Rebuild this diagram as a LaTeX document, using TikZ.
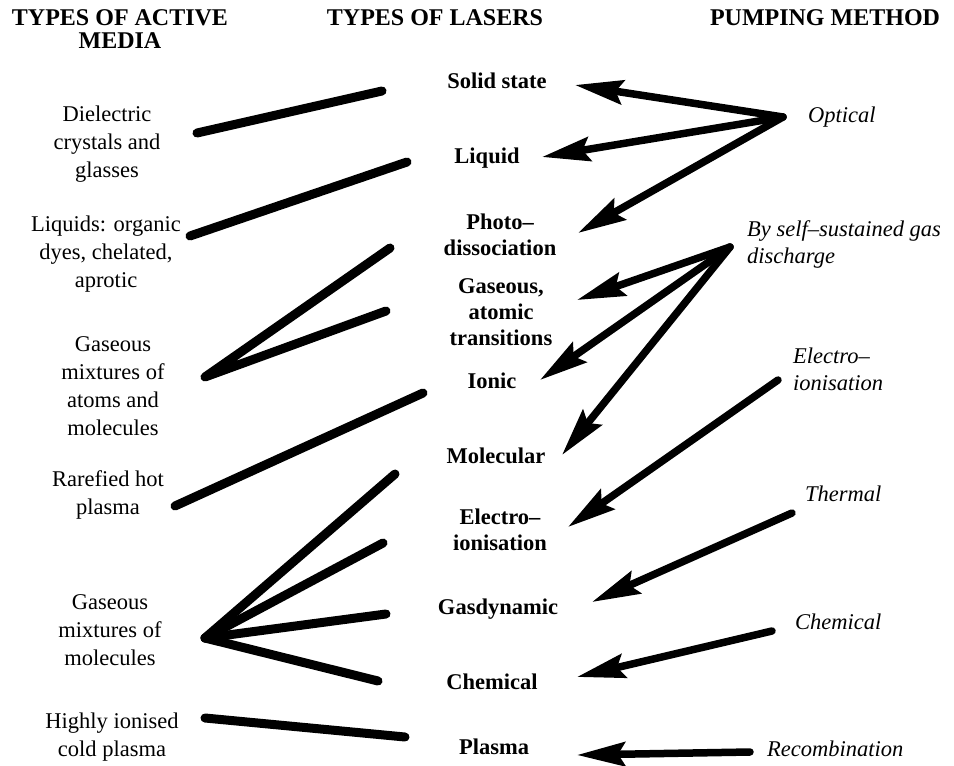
\documentclass[tikz,border=0pt]{standalone}
\usepackage{fontspec}
\setmainfont{Liberation Serif}
\usetikzlibrary{arrows.meta}
\begin{document}
\begin{tikzpicture}[x=1pt,y=-1pt,
  lft/.style={font=\fontsize{22.5}{28}\selectfont, align=center, anchor=north, inner sep=0pt},
  ctr/.style={font=\fontsize{22.5}{26}\selectfont\bfseries, align=center, anchor=north, inner sep=0pt},
  rgt/.style={font=\fontsize{22.5}{27.5}\selectfont\itshape, align=left, anchor=north west, inner sep=0pt},
  hdr/.style={font=\fontsize{24}{23}\selectfont\bfseries, align=center, anchor=north, inner sep=0pt},
  link/.style={line width=9pt, line cap=round, line join=round},
  pump/.style={line width=7.5pt, line cap=round, -{Stealth[length=48pt,width=24pt,inset=7pt]}},
]
\useasboundingbox[fill=white] (0,0) rectangle (954,766);

% headers
\node[hdr] (h1) at (120,8.9) {\strut TYPES OF ACTIVE\\MEDIA};
\node[hdr] (h2) at (435,8.9) {\strut TYPES OF LASERS};
\node[hdr] (h3) at (825,8.9) {\strut PUMPING METHOD};

% left column
\node[lft] (diel) at (107,101.4) {\strut Dielectric\\crystals and\\glasses};
\node[lft] (liqd) at (106,211.4) {\strut Liquids: organic\\dyes, chelated,\\aprotic};
\node[lft] (gatm) at (113,331.4) {\strut Gaseous\\mixtures of\\atoms and\\molecules};
\node[lft] (rare) at (108,466.4) {\strut Rarefied hot\\plasma};
\node[lft] (gmol) at (110,589.4) {\strut Gaseous\\mixtures of\\molecules};
\node[lft] (high) at (112,708.4) {\strut Highly ionised\\cold plasma};

% center column
\node[ctr] (solid) at (497,69.8) {\strut Solid state};
\node[ctr] (liquid) at (487,144.8) {\strut Liquid};
\node[ctr] (photo) at (500,210.8) {\strut Photo–\\dissociation};
\node[ctr] (gasat) at (501,274.8) {\strut Gaseous,\\atomic\\transitions};
\node[ctr] (ionic) at (492,369.8) {\strut Ionic};
\node[ctr] (molec) at (496,444.8) {\strut Molecular};
\node[ctr] (elec) at (500,505.8) {\strut Electro–\\ionisation};
\node[ctr] (gasdyn) at (498,595.8) {\strut Gasdynamic};
\node[ctr] (chem) at (492,670.8) {\strut Chemical};
\node[ctr] (plasma) at (494,735.8) {\strut Plasma};

% right column
\node[rgt] (optical) at (808,102.75) {\strut Optical};
\node[rgt] (bysel) at (747,216.75) {\strut By self–sustained gas\\discharge};
\node[rgt] (electro) at (793,343.75) {\strut Electro–\\ionisation};
\node[rgt] (thermal) at (805,481.75) {\strut Thermal};
\node[rgt] (chemical) at (795,609.75) {\strut Chemical};
\node[rgt] (recomb) at (767,736.75) {\strut Recombination};

% link end points
\coordinate (l1a) at (197,133);
\coordinate (l1b) at (382,91);
\coordinate (l2a) at (190,236);
\coordinate (l2b) at (407,162);
\coordinate (l3a) at (205,377);
\coordinate (l3b) at (390,248);
\coordinate (l3c) at (386,311);
\coordinate (l4a) at (175,506);
\coordinate (l4b) at (423,393);
\coordinate (l5a) at (205,638);
\coordinate (l5b) at (395,474);
\coordinate (l5c) at (383,543);
\coordinate (l5d) at (386,614);
\coordinate (l5e) at (378,681);
\coordinate (l6a) at (205,718);
\coordinate (l6b) at (405,737);

\draw[link] (l1a) -- (l1b);
\draw[link] (l2a) -- (l2b);
\draw[link] (l3b) -- (l3a) -- (l3c);
\draw[link] (l4a) -- (l4b);
\draw[link] (l5a) -- (l5b);
\draw[link] (l5a) -- (l5c);
\draw[link] (l5a) -- (l5d);
\draw[link] (l5a) -- (l5e);
\draw[link] (l6a) -- (l6b);

% pumping arrows
\coordinate (opt) at (783,117);
\coordinate (a1) at (575,85);
\coordinate (a2) at (542,157);
\coordinate (a3) at (578,233);
\coordinate (gd) at (730,247);
\coordinate (a4) at (577,300);
\coordinate (a5) at (540,380);
\coordinate (a6) at (562,455);
\coordinate (elo) at (778,380);
\coordinate (a7) at (568,527);
\coordinate (thm) at (792,513);
\coordinate (a8) at (592,602);
\coordinate (chm) at (772,631);
\coordinate (a9) at (577,677);
\coordinate (rec) at (750,752);
\coordinate (a10) at (577,755);

\draw[pump] (opt) -- (a1);
\draw[pump] (opt) -- (a2);
\draw[pump] (opt) -- (a3);
\draw[pump] (gd) -- (a4);
\draw[pump] (gd) -- (a5);
\draw[pump] (gd) -- (a6);
\draw[pump] (elo) -- (a7);
\draw[pump] (thm) -- (a8);
\draw[pump] (chm) -- (a9);
\draw[pump] (rec) -- (a10);
\end{tikzpicture}
\end{document}
